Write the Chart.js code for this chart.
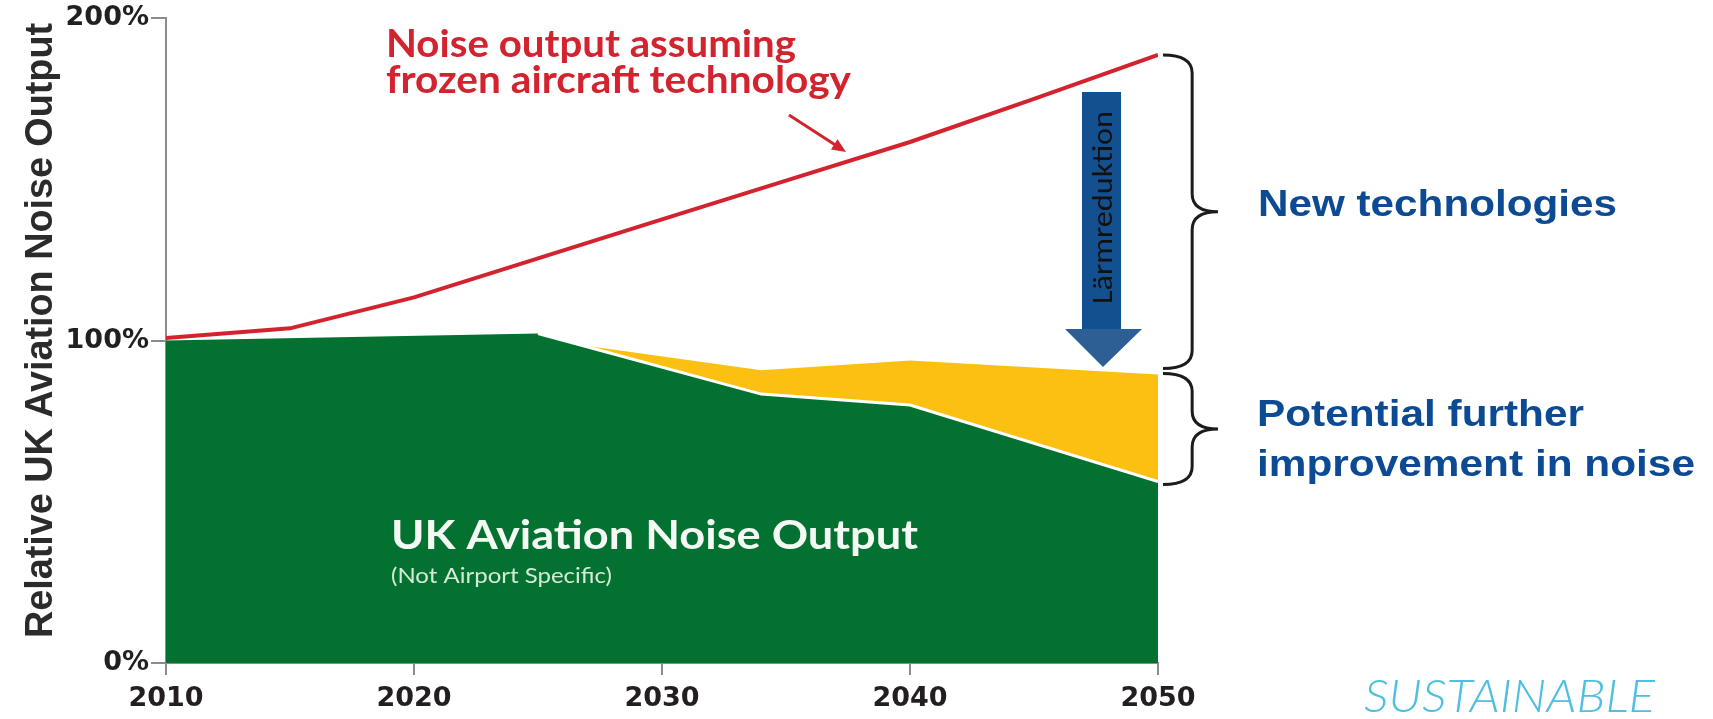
<!DOCTYPE html>
<html>
<head>
<meta charset="utf-8">
<script src="https://cdn.jsdelivr.net/npm/chart.js@4.4.1/dist/chart.umd.min.js"></script>
<style>
html,body{margin:0;padding:0;background:#fff;overflow:hidden}
#wrap{width:1713px;height:719px;position:relative}
</style>
</head>
<body>
<div id="wrap"><canvas id="c" width="1713" height="719"></canvas></div>
<script>
// ---- data ----
const frozenYears = [2010, 2015, 2020, 2025, 2030, 2035, 2040, 2045, 2050];
const frozenNoise = [100.8, 103.8, 113.4, 125.5, 137.6, 149.6, 161.6, 175.0, 188.6];

const ukYears = [2010, 2025, 2034, 2040, 2050];
const ukNoise = [100.0, 102.2, 83.4, 80.0, 56.3];

const potentialYears = [2027, 2034, 2040, 2050];
const potentialNoise = [98.3, 90.8, 93.8, 89.5];

const xTickYears = [2010, 2020, 2030, 2040, 2050];
const yTickValues = [0, 100, 200];

const labels = {
  yTitle: 'Relative UK Aviation Noise Output',
  frozen1: 'Noise output assuming',
  frozen2: 'frozen aircraft technology',
  uk1: 'UK Aviation Noise Output',
  uk2: '(Not Airport Specific)',
  arrow: 'Lärmreduktion',
  newTech: 'New technologies',
  pot1: 'Potential further',
  pot2: 'improvement in noise',
  brand: 'SUSTAINABLE'
};

const toXY = (xs, ys) => xs.map((x, i) => ({x: x, y: ys[i]}));

function fitText(ctx, text, x, y, w, font, color) {
  ctx.save();
  ctx.font = font;
  ctx.fillStyle = color;
  ctx.textAlign = 'left';
  ctx.textBaseline = 'alphabetic';
  const m = ctx.measureText(text).width;
  ctx.translate(x, y);
  ctx.scale(w / m, 1);
  ctx.fillText(text, 0, 0);
  ctx.restore();
}

function brace(ctx, x, y1, y2, w) {
  const ym = (y1 + y2) / 2;
  const xv = x + w * 0.53;
  const xt = x + w;
  const r = Math.min(18, (y2 - y1) / 4);
  ctx.beginPath();
  ctx.moveTo(x, y1);
  ctx.quadraticCurveTo(xv, y1, xv, y1 + r);
  ctx.lineTo(xv, ym - r);
  ctx.quadraticCurveTo(xv, ym, xt, ym);
  ctx.quadraticCurveTo(xv, ym, xv, ym + r);
  ctx.lineTo(xv, y2 - r);
  ctx.quadraticCurveTo(xv, y2, x, y2);
  ctx.stroke();
}

const annot = {
  id: 'annot',
  afterDraw(chart) {
    const ctx = chart.ctx;
    const xs = chart.scales.x, ys = chart.scales.y;
    const red = '#d2232f';

    // y-axis title (rotated)
    ctx.save();
    ctx.translate(38, 331);
    ctx.rotate(-Math.PI / 2);
    fitText(ctx, labels.yTitle, -307, 14, 615, 'bold 39px "Liberation Sans Narrow", "Liberation Sans", Arial, sans-serif', '#2b2b2b');
    ctx.restore();

    // red annotation text + pointer arrow
    fitText(ctx, labels.frozen1, 386, 57, 410, 'bold 38px Lato, sans-serif', red);
    fitText(ctx, labels.frozen2, 386, 93, 465, 'bold 38px Lato, sans-serif', red);
    ctx.save();
    ctx.strokeStyle = red; ctx.fillStyle = red; ctx.lineWidth = 3;
    const ax0 = 789, ay0 = 115, ax1 = 846, ay1 = 152;
    ctx.beginPath(); ctx.moveTo(ax0, ay0); ctx.lineTo(ax1 - 6, ay1 - 4); ctx.stroke();
    const ang = Math.atan2(ay1 - ay0, ax1 - ax0);
    ctx.beginPath();
    ctx.moveTo(ax1, ay1);
    ctx.lineTo(ax1 - 14 * Math.cos(ang) + 6 * Math.sin(ang), ay1 - 14 * Math.sin(ang) - 6 * Math.cos(ang));
    ctx.lineTo(ax1 - 14 * Math.cos(ang) - 6 * Math.sin(ang), ay1 - 14 * Math.sin(ang) + 6 * Math.cos(ang));
    ctx.closePath(); ctx.fill();
    ctx.restore();

    // white labels inside the green area
    fitText(ctx, labels.uk1, 391, 549, 527, 'bold 40px Lato, sans-serif', '#f4f9f4');
    fitText(ctx, labels.uk2, 391, 583, 221, '21px Lato, sans-serif', '#d6ead8');

    // Lärmreduktion arrow
    ctx.save();
    ctx.fillStyle = '#13508f';
    ctx.fillRect(1082, 92, 39, 237);
    ctx.fillStyle = '#2d5e94';
    ctx.beginPath();
    ctx.moveTo(1065, 329); ctx.lineTo(1142, 329); ctx.lineTo(1103, 367); ctx.closePath();
    ctx.fill();
    ctx.translate(1112, 304);
    ctx.rotate(-Math.PI / 2);
    fitText(ctx, labels.arrow, 0, 0, 193, '29px Carlito, Lato, "Open Sans", sans-serif', '#111111');
    ctx.restore();

    // braces at 2050
    const xr = xs.getPixelForValue(2050);
    const yRed = ys.getPixelForValue(frozenNoise[frozenNoise.length - 1]);
    const yYel = ys.getPixelForValue(potentialNoise[potentialNoise.length - 1]);
    const yGrn = ys.getPixelForValue(ukNoise[ukNoise.length - 1]);
    ctx.save();
    ctx.strokeStyle = '#1c1c1c'; ctx.lineWidth = 3;
    brace(ctx, xr + 5, yRed, yYel - 6, 55);
    brace(ctx, xr + 5, yYel - 1, yGrn + 3, 55);
    ctx.restore();

    // right-hand texts
    const blue = '#0c4a93';
    const f = 'bold 36px "Liberation Sans", Arial, sans-serif';
    fitText(ctx, labels.newTech, 1258, 216, 359, f, blue);
    fitText(ctx, labels.pot1, 1257, 426, 327, f, blue);
    fitText(ctx, labels.pot2, 1257, 476, 438, f, blue);

    // brand
    fitText(ctx, labels.brand, 1364, 712, 291, 'italic 300 45px Lato, sans-serif', '#4dbfe0');
  }
};

const chart = new Chart(document.getElementById('c'), {
  type: 'line',
  data: {
    datasets: [
      {
        label: 'Frozen technology',
        data: toXY(frozenYears, frozenNoise),
        borderColor: '#d2232f',
        borderWidth: 4,
        pointRadius: 0,
        fill: false,
        tension: 0
      },
      {
        label: 'UK Aviation Noise Output',
        data: toXY(ukYears, ukNoise),
        borderColor: '#ffffff',
        borderWidth: 3,
        segment: {
          borderColor: c => (c.p0.parsed.x < 2024 ? 'rgba(0,0,0,0)' : '#ffffff')
        },
        backgroundColor: '#03712f',
        pointRadius: 0,
        fill: 'origin',
        tension: 0
      },
      {
        label: 'Potential further improvement',
        data: toXY(potentialYears, potentialNoise),
        borderColor: 'rgba(0,0,0,0)',
        borderWidth: 0,
        backgroundColor: '#fcc012',
        pointRadius: 0,
        fill: 'origin',
        tension: 0
      }
    ]
  },
  options: {
    responsive: false,
    animation: false,
    devicePixelRatio: 1,
    layout: {padding: {left: 0, top: 13, right: 555, bottom: 0}},
    plugins: {legend: {display: false}, tooltip: {enabled: false}},
    scales: {
      x: {
        type: 'linear',
        min: xTickYears[0],
        max: xTickYears[xTickYears.length - 1],
        afterBuildTicks: s => { s.ticks = xTickYears.map(v => ({value: v})); },
        afterFit: s => { s.height = 56; },
        ticks: {
          callback: v => String(v),
          color: '#231f20',
          font: {family: '"DejaVu Sans", sans-serif', weight: 'bold', size: 27},
          padding: 8,
          maxRotation: 0
        },
        grid: {display: true, drawOnChartArea: false, drawTicks: true, tickLength: 12, color: '#8c8c8c', lineWidth: 2},
        border: {display: true, color: '#8c8c8c', width: 2}
      },
      y: {
        min: yTickValues[0],
        max: yTickValues[yTickValues.length - 1],
        afterBuildTicks: s => { s.ticks = yTickValues.map(v => ({value: v})); },
        afterFit: s => { s.width = 166; },
        ticks: {
          callback: v => v + '%',
          color: '#231f20',
          font: {family: '"DejaVu Sans", sans-serif', weight: 'bold', size: 27},
          padding: 2
        },
        grid: {display: true, drawOnChartArea: false, drawTicks: true, tickLength: 15, color: '#8c8c8c', lineWidth: 2},
        border: {display: true, color: '#8c8c8c', width: 2}
      }
    }
  },
  plugins: [annot]
});
</script>
</body>
</html>
